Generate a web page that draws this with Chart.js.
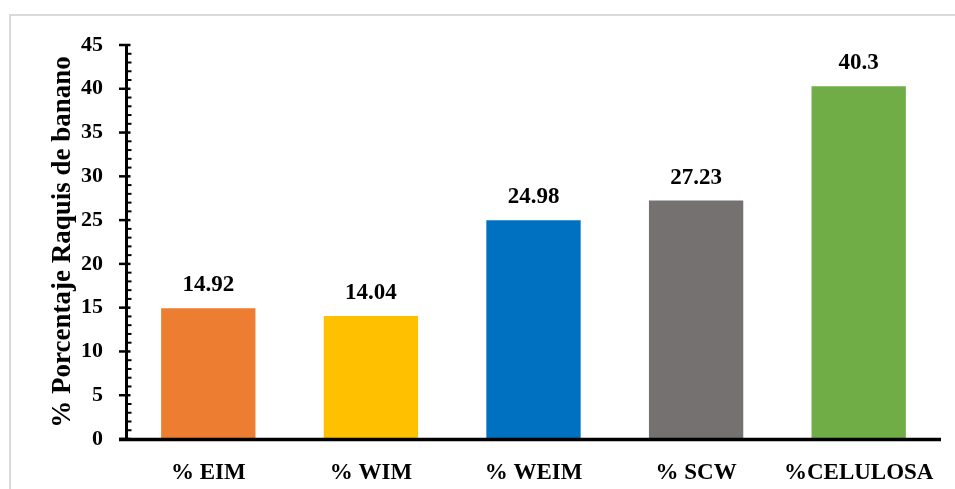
<!DOCTYPE html>
<html lang="es">
<head>
<meta charset="utf-8">
<title>Raquis de banano</title>
<script src="https://cdn.jsdelivr.net/npm/chart.js@4.4.1/dist/chart.umd.min.js"></script>
<style>
    html, body { margin: 0; padding: 0; background: #ffffff; overflow: hidden; }
    #marco {
        position: absolute; left: 9px; top: 14px;
        width: 980px; height: 520px;
        border: 2px solid #d9d9d9;
    }
    #chart-container { position: absolute; left: 0; top: 0; width: 955px; height: 489px; }
</style>
</head>
<body>
<div id="marco"></div>
<div id="chart-container"><canvas id="grafico" width="955" height="489"></canvas></div>
<script>
const kategorije = ['% EIM', '% WIM', '% WEIM', '% SCW', '%CELULOSA'];
const vrijednosti = [14.92, 14.04, 24.98, 27.23, 40.3];
const boje = ['#ED7D31', '#FFC000', '#0070C0', '#767171', '#70AD47'];
const oznakeY = [0, 5, 10, 15, 20, 25, 30, 35, 40, 45];
const naslovY = '% Porcentaje Raquis de banano';

const FONT = '"Liberation Serif", "Times New Roman", serif';

// osi u Excel stilu: glavne crtice van, pomocne unutra
const osiPlugin = {
    id: 'osi',
    afterDatasetsDraw(chart) {
        const { ctx, chartArea, scales } = chart;
        const y = scales.y;
        const x0 = chartArea.left - 0.5;
        ctx.save();
        ctx.strokeStyle = '#000';
        ctx.lineCap = 'butt';

        // pomocne crtice svakih 1
        ctx.lineWidth = 2;
        for (let v = 1; v < 45; v++) {
            if (v % 5 === 0) continue;
            const py = y.getPixelForValue(v);
            ctx.beginPath();
            ctx.moveTo(x0, py);
            ctx.lineTo(x0 + 5, py);
            ctx.stroke();
        }
        // glavne crtice
        ctx.lineWidth = 2.5;
        oznakeY.forEach(v => {
            const py = y.getPixelForValue(v);
            ctx.beginPath();
            ctx.moveTo(x0 - 7.5, py);
            ctx.lineTo(x0 + 4, py);
            ctx.stroke();
        });
        // okomita os
        ctx.lineWidth = 3;
        ctx.beginPath();
        ctx.moveTo(x0, y.getPixelForValue(45) - 1);
        ctx.lineTo(x0, y.getPixelForValue(0));
        ctx.stroke();
        // vodoravna os
        ctx.lineWidth = 3.5;
        const py0 = y.getPixelForValue(0) + 0.5;
        ctx.beginPath();
        ctx.moveTo(x0 - 7.5, py0);
        ctx.lineTo(chartArea.right + 1, py0);
        ctx.stroke();

        // vrijednosti iznad stupaca
        ctx.fillStyle = '#000';
        ctx.font = 'bold 23px ' + FONT;
        ctx.textAlign = 'center';
        ctx.textBaseline = 'alphabetic';
        chart.getDatasetMeta(0).data.forEach((bar, i) => {
            ctx.fillText(String(vrijednosti[i]), bar.x, bar.y - 17);
        });
        ctx.restore();
    }
};

document.addEventListener('DOMContentLoaded', () => {
    const canvas = document.getElementById('grafico');

    new Chart(canvas, {
        type: 'bar',
        data: {
            labels: kategorije,
            datasets: [{
                data: vrijednosti,
                backgroundColor: boje,
                borderWidth: 0,
                barPercentage: 0.58,
                categoryPercentage: 1
            }]
        },
        options: {
            responsive: false,
            animation: false,
            devicePixelRatio: 1,
            layout: { padding: { top: 45, right: 15, left: 0, bottom: 0 } },
            plugins: {
                legend: { display: false },
                tooltip: { enabled: false }
            },
            scales: {
                x: {
                    grid: { display: false },
                    border: { display: false },
                    ticks: {
                        color: '#000',
                        padding: 12,
                        font: { family: FONT, size: 23, weight: 'bold' }
                    },
                    afterFit: s => { s.height = 50; }
                },
                y: {
                    min: 0,
                    max: 45,
                    grid: { display: false },
                    border: { display: false },
                    ticks: {
                        stepSize: 5,
                        color: '#000',
                        padding: 16,
                        font: { family: FONT, size: 22, weight: 'bold' }
                    },
                    title: {
                        display: true,
                        text: naslovY,
                        color: '#000',
                        padding: { top: 47, bottom: 0 },
                        font: { family: FONT, size: 27, weight: 'bold' }
                    },
                    afterFit: s => { s.width = 127; }
                }
            }
        },
        plugins: [osiPlugin]
    });
});
</script>
</body>
</html>
